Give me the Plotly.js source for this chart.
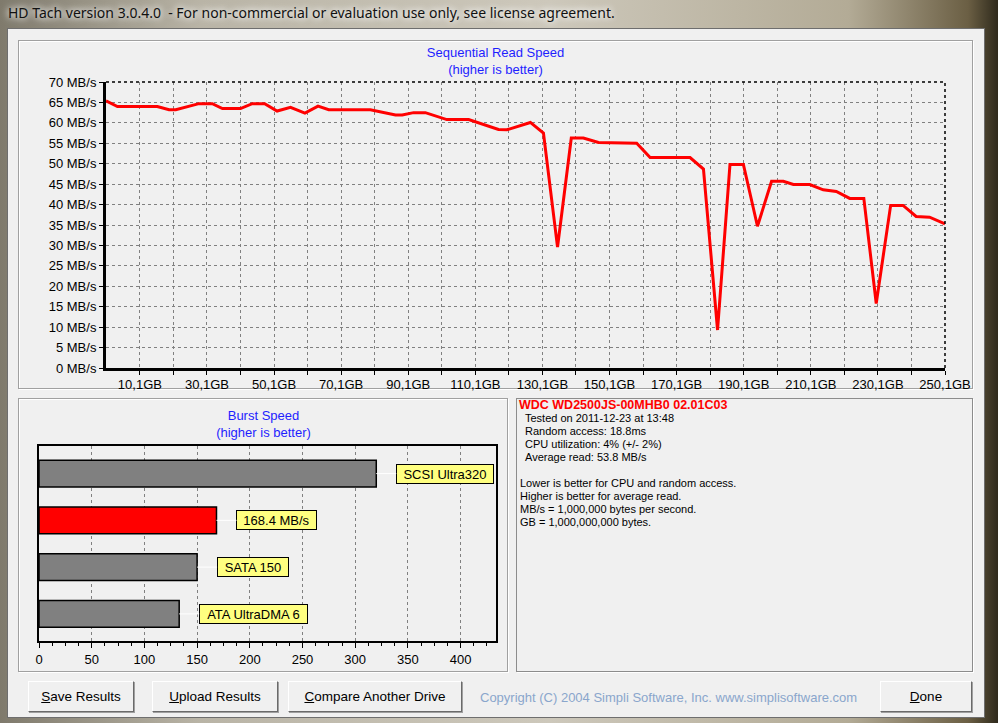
<!DOCTYPE html>
<html>
<head>
<meta charset="utf-8">
<script src="https://cdn.plot.ly/plotly-3.0.1.min.js"></script>
<style>
body {
    margin: 0; width: 998px; height: 723px; overflow: hidden; position: relative;
    font-family: "Liberation Sans", Arial, sans-serif;
    background: linear-gradient(90deg, #7f7a6c 0%, #b9b4a6 20%, #cdc8bb 55%, #b3ab96 85%, #6b5f44 97%, #2f2a1c 100%);
}
#titlebar {
    position: absolute; left: 8px; top: 3px; font-family: "Noto Sans", sans-serif; font-size: 14px;
    color: #111; text-shadow: 0 0 6px #fff, 0 0 10px #fff;
}
#client {
    position: absolute; left: 7px; top: 28px; width: 976px; height: 688px;
    background: #f0f0f0; border: 1px solid #6e6e6e;
}
.group {
    position: absolute; border: 1px solid #a0a0a0; background: #f0f0f0;
    box-shadow: 1px 1px 0 #fff, inset 1px 1px 0 #fff;
}
#info {
    position: absolute; left: 516px; top: 398px; width: 455px; height: 272px;
    border: 1px solid #8c8c8c; background: #f0f0f0; font-size: 11px; line-height: 13px; color: #000;
    box-shadow: 1px 1px 0 #fff;
}
#info .hd { color: #ff0000; font-weight: bold; font-size: 12.5px; padding-left: 2px; }
#info .ind { padding-left: 8px; }
#info .par { padding-left: 3px; }
.btn {
    position: absolute; top: 681px; height: 29px; background: #f0f0f0;
    border-top: 1px solid #fff; border-left: 1px solid #fff;
    border-right: 1px solid #6a6a6a; border-bottom: 1px solid #6a6a6a;
    box-shadow: 1px 1px 0 #a0a0a0;
    font-family: "Liberation Sans Narrow", "Arial Narrow", sans-serif; font-size: 13.5px;
    display: flex; align-items: center; justify-content: center; color: #000;
}
#copy {
    position: absolute; left: 480px; top: 690px; font-family: "Liberation Sans Narrow", "Arial Narrow", sans-serif;
    font-size: 13px; color: #8aa6cc;
}
#readchart { position: absolute; left: 19px; top: 42px; }
#burstchart { position: absolute; left: 19px; top: 399px; }
</style>
</head>
<body>
<div id="titlebar">HD Tach version 3.0.4.0&nbsp; - For non-commercial or evaluation use only, see license agreement.</div>
<div id="client"></div>
<div class="group" style="left:18px;top:40px;width:953px;height:347px;"></div>
<div class="group" style="left:18px;top:398px;width:488px;height:272px;"></div>
<div id="readchart"></div>
<div id="burstchart"></div>
<div id="info">
    <div class="hd">WDC WD2500JS-00MHB0 02.01C03</div>
    <div class="ind">Tested on 2011-12-23 at 13:48</div>
    <div class="ind">Random access: 18.8ms</div>
    <div class="ind">CPU utilization: 4% (+/- 2%)</div>
    <div class="ind">Average read: 53.8 MB/s</div>
    <div>&nbsp;</div>
    <div class="par">Lower is better for CPU and random access.</div>
    <div class="par">Higher is better for average read.</div>
    <div class="par">MB/s = 1,000,000 bytes per second.</div>
    <div class="par">GB = 1,000,000,000 bytes.</div>
</div>
<div class="btn" style="left:28px;width:104px;"><span><u>S</u>ave Results</span></div>
<div class="btn" style="left:152px;width:124px;"><span><u>U</u>pload Results</span></div>
<div class="btn" style="left:288px;width:172px;"><span><u>C</u>ompare Another Drive</span></div>
<div id="copy">Copyright (C) 2004 Simpli Software, Inc. www.simplisoftware.com</div>
<div class="btn" style="left:880px;width:90px;"><span><u>D</u>one</span></div>

<script>
// sequential read
const positionGB = [0, 3.4, 15.3, 18.8, 20.8, 27.7, 31.7, 34.7, 40.1, 43.6, 47.3, 51.0, 55.0, 59.3,
    63.2, 66.4, 78.8, 86.3, 88.3, 91.7, 95.2, 101.6, 108.1, 117.0, 119.5, 126.5, 130.4, 134.6,
    138.7, 142.3, 146.8, 158.2, 162.2, 174.1, 178.1, 182.3, 186.0, 190.0, 194.2, 198.4, 201.9,
    204.9, 209.8, 213.8, 217.7, 221.7, 225.9, 229.6, 233.9, 237.6, 241.5, 245.5, 250.1];
const readSpeed = [65.4, 64.0, 64.0, 63.2, 63.2, 64.7, 64.7, 63.5, 63.5, 64.7, 64.7, 62.9, 63.8, 62.4,
    64.1, 63.2, 63.2, 61.9, 61.9, 62.5, 62.5, 60.8, 60.8, 58.4, 58.3, 60.1, 57.5, 29.6,
    56.3, 56.3, 55.2, 55.0, 51.5, 51.5, 48.7, 9.3, 49.8, 49.8, 34.7, 45.7, 45.7,
    44.9, 44.9, 43.6, 43.2, 41.5, 41.5, 15.8, 39.8, 39.8, 37.1, 36.9, 35.3];

const gbTicks = [10.1, 20.1, 30.1, 40.1, 50.1, 60.1, 70.1, 80.1, 90.1, 100.1, 110.1, 120.1, 130.1,
    140.1, 150.1, 160.1, 170.1, 180.1, 190.1, 200.1, 210.1, 220.1, 230.1, 240.1, 250.1];
const gbLabels = ["10,1GB", "", "30,1GB", "", "50,1GB", "", "70,1GB", "", "90,1GB", "", "110,1GB", "",
    "130,1GB", "", "150,1GB", "", "170,1GB", "", "190,1GB", "", "210,1GB", "", "230,1GB", "", "250,1GB"];

// burst speed
const burstNames = ["SCSI Ultra320", "168.4 MB/s", "SATA 150", "ATA UltraDMA 6"];
const burstValues = [320, 168.4, 150, 133];
const burstColors = ["#808080", "#ff0000", "#808080", "#808080"];

const FONT = "Liberation Sans, Arial, sans-serif";
const BLUE = "#1e1eff";

window.addEventListener("DOMContentLoaded", init);

function init() {
    drawRead();
    drawBurst();
}

function drawRead() {
    let trace = {
        x: positionGB, y: readSpeed, type: 'scatter', mode: 'lines',
        line: { color: '#ff0000', width: 3 }, hoverinfo: 'skip'
    };
    let axisCommon = {
        showgrid: true, gridcolor: '#808080', griddash: 'dot', gridwidth: 1,
        showline: true, linecolor: '#000', linewidth: 3, zeroline: false,
        ticks: 'outside', ticklen: 4, tickcolor: '#000', fixedrange: true,
        tickfont: { family: FONT, size: 13, color: '#000' }
    };
    // taller than the panel so the GB labels are not clipped
    let layout = {
        width: 953, height: 356,
        margin: { l: 87, r: 27, t: 40, b: 30 },
        paper_bgcolor: 'rgba(0,0,0,0)', plot_bgcolor: '#f0f0f0',
        showlegend: false,
        title: {
            text: 'Sequential Read Speed<br>(higher is better)',
            font: { family: FONT, size: 13, color: BLUE },
            x: 0.5, xref: 'container', y: 0.958, yref: 'container', yanchor: 'top'
        },
        xaxis: Object.assign({}, axisCommon, {
            range: [0, 250.1], tickmode: 'array', tickvals: gbTicks, ticktext: gbLabels,
            ticklabelstandoff: -2
        }),
        yaxis: Object.assign({}, axisCommon, {
            range: [0, 70], dtick: 5, tick0: 0, ticksuffix: ' MB/s'
        }),
        shapes: [
            { type: 'line', xref: 'paper', yref: 'paper', x0: 0, x1: 1, y0: 1, y1: 1, line: { color: '#000', width: 1.5, dash: 'dot' } },
            { type: 'line', xref: 'paper', yref: 'paper', x0: 1, x1: 1, y0: 0, y1: 1, line: { color: '#000', width: 1.5, dash: 'dot' } }
        ]
    };
    Plotly.newPlot('readchart', [trace], layout, { staticPlot: true });
}

function textWidth(txt) {
    let ctx = document.createElement('canvas').getContext('2d');
    ctx.font = "13px 'Liberation Sans', Arial";
    return ctx.measureText(txt).width;
}

function drawBurst() {
    let trace = {
        type: 'bar', orientation: 'h', x: burstValues, y: burstNames, width: 0.57,
        marker: { color: burstColors, line: { color: '#000', width: 1.5 } }, hoverinfo: 'skip'
    };
    let notes = burstNames.map((name, i) => ({
        x: burstValues[i], y: name, xref: 'x', yref: 'y', text: name,
        showarrow: true, arrowhead: 0, arrowwidth: 1, arrowcolor: '#ffffff', standoff: 0,
        ax: 20, ay: 0, xanchor: 'left',
        width: Math.round(textWidth(name) + 11), height: 16,
        bgcolor: '#ffff80', bordercolor: '#000', borderwidth: 1, borderpad: 1,
        font: { family: FONT, size: 13, color: '#000' }
    }));
    let layout = {
        width: 489, height: 272,
        margin: { l: 20, r: 12, t: 47, b: 30 },
        paper_bgcolor: 'rgba(0,0,0,0)', plot_bgcolor: '#f0f0f0',
        showlegend: false,
        title: {
            text: 'Burst Speed<br>(higher is better)',
            font: { family: FONT, size: 13, color: BLUE },
            x: 0.5, xref: 'container', y: 0.921, yref: 'container', yanchor: 'top'
        },
        xaxis: {
            range: [0, 433.6], tick0: 0, dtick: 50, ticks: 'outside', ticklen: 5, tickcolor: '#000',
            minor: { dtick: 12.5, ticks: 'outside', ticklen: 3, tickcolor: '#000', showgrid: false },
            showgrid: true, gridcolor: '#808080', griddash: 'dot',
            showline: true, mirror: true, linecolor: '#000', linewidth: 2, zeroline: false,
            tickfont: { family: FONT, size: 13, color: '#000' }, fixedrange: true
        },
        yaxis: {
            type: 'category', range: [3.58, -0.59], showticklabels: false, ticks: '',
            showgrid: false, showline: true, mirror: true, linecolor: '#000', linewidth: 2,
            zeroline: false, fixedrange: true
        },
        annotations: notes
    };
    Plotly.newPlot('burstchart', [trace], layout, { staticPlot: true });
}
</script>
</body>
</html>
